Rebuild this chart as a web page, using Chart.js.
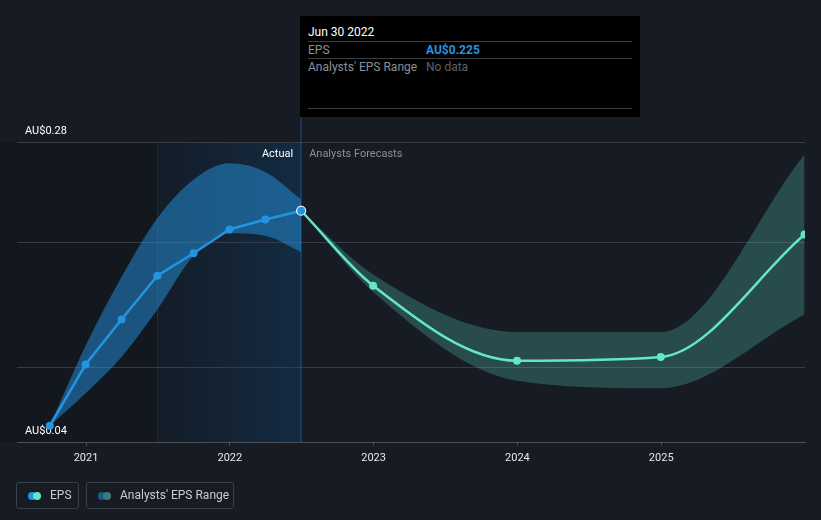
<!DOCTYPE html>
<html>
<head>
<meta charset="utf-8">
<script src="https://cdn.jsdelivr.net/npm/chart.js@4.4.1/dist/chart.umd.min.js"></script>
<style>
html,body{margin:0;padding:0;background:#161b24;}
#wrap{position:relative;width:821px;height:520px;font-family:Roboto,"Noto Sans",sans-serif;overflow:hidden;}
#c{position:absolute;left:0;top:0;}
#tip{position:absolute;left:300px;top:16px;width:340px;height:101px;background:#000;}
#tip .hd{position:absolute;left:8px;font-size:12px;color:#fff;line-height:16px;}
#tip .ln{position:absolute;left:8px;right:8px;height:1px;background:#3a3d42;}
#tip .lab{position:absolute;left:8px;font-size:12px;color:#8c9097;line-height:14px;}
#tip .val{position:absolute;left:126px;font-size:12px;line-height:14px;}
.leg{position:absolute;top:482px;height:27px;border:1px solid #3a3f48;border-radius:3px;box-sizing:border-box;}
.leg span.t{position:absolute;top:5px;font-size:12px;color:#c9ccd1;line-height:15px;white-space:nowrap;}
.dot{position:absolute;top:9px;width:8px;height:8px;border-radius:50%;}
</style>
</head>
<body>
<div id="wrap">
<canvas id="c" width="821" height="520"></canvas>
<div id="tip">
  <div class="hd" style="top:8px">Jun 30 2022</div>
  <div class="ln" style="top:25px"></div>
  <div class="lab" style="top:27px">EPS</div>
  <div class="val" style="top:27px;color:#2394df;font-weight:bold">AU$0.225</div>
  <div class="ln" style="top:42px"></div>
  <div class="lab" style="top:44px">Analysts' EPS Range</div>
  <div class="val" style="top:44px;color:#5d6168">No data</div>
  <div class="ln" style="top:92px"></div>
</div>
<div class="leg" style="left:16px;width:63px;">
  <div class="dot" style="left:11px;background:#2394df"></div>
  <div class="dot" style="left:16px;background:#63e6cd"></div>
  <span class="t" style="left:33px">EPS</span>
</div>
<div class="leg" style="left:86px;width:148px;">
  <div class="dot" style="left:11px;background:#1d5a85"></div>
  <div class="dot" style="left:16px;background:#3b7c78"></div>
  <span class="t" style="left:33px">Analysts' EPS Range</span>
</div>
</div>
<script>
// ---- data ----
const pastDates = [2020.748, 2020.997, 2021.247, 2021.496, 2021.748, 2021.997, 2022.247, 2022.496];
const pastEPS   = [0.053, 0.102, 0.138, 0.173, 0.191, 0.210, 0.218, 0.225];
const pastLow   = [0.053, 0.079, 0.108, 0.146, 0.189, 0.207, 0.205, 0.192];
const pastHigh  = [0.053, 0.117, 0.172, 0.219, 0.250, 0.263, 0.256, 0.234];

const fcDates = [2022.496, 2022.997, 2023.997, 2024.997, 2025.997];
const fcEPS   = [0.225, 0.165, 0.105, 0.108, 0.206];
const fcLow   = [0.225, 0.160, 0.089, 0.083, 0.142];
const fcHigh  = [0.225, 0.174, 0.128, 0.128, 0.270];

const yearTicks = [2021, 2022, 2023, 2024, 2025];
const yTicks = [0.04, 0.10, 0.20, 0.28];
const yLabelled = [0.04, 0.28];
const nowDate = 2022.496;
const pastStart = 2021.496;

const pts = (xs, ys) => xs.map((x, i) => ({x: x, y: ys[i]}));

const BLUE = '#2394df';
const TEAL = '#63e6cd';

const bgPlugin = {
  id: 'bg',
  beforeDraw(chart) {
    const {ctx, chartArea: a, scales: {x}} = chart;
    const xs = x.getPixelForValue(pastStart);
    const xn = x.getPixelForValue(nowDate);
    ctx.save();
    ctx.fillStyle = '#13171e';
    ctx.fillRect(0, a.top, xs, a.bottom - a.top);
    const g = ctx.createLinearGradient(xs, 0, xn, 0);
    g.addColorStop(0, '#141c27');
    g.addColorStop(1, '#132b42');
    ctx.fillStyle = g;
    ctx.fillRect(xs, a.top, xn - xs, a.bottom - a.top);
    ctx.fillStyle = 'rgba(35,148,223,0.18)';
    ctx.fillRect(Math.round(xs), a.top, 1, a.bottom - a.top);
    ctx.restore();
  },
  beforeDatasetsDraw(chart) {
    const {ctx, chartArea: a, scales: {x}} = chart;
    const xn = x.getPixelForValue(nowDate);
    ctx.save();
    ctx.fillStyle = 'rgba(35,148,223,0.45)';
    ctx.fillRect(Math.round(xn) - 0.5, 117, 1, a.bottom - 117);
    ctx.font = '11px Roboto';
    ctx.textBaseline = 'middle';
    ctx.textAlign = 'right';
    ctx.fillStyle = '#ffffff';
    ctx.fillText('Actual', xn - 8, a.top + 12);
    ctx.textAlign = 'left';
    ctx.fillStyle = '#8a8f98';
    ctx.fillText('Analysts Forecasts', xn + 8, a.top + 12);
    ctx.restore();
  }
};

new Chart(document.getElementById('c'), {
  type: 'line',
  data: {
    datasets: [
      {label: 'pastHigh', data: pts(pastDates, pastHigh), fill: '+1', backgroundColor: 'rgba(35,148,223,0.5)',
       borderWidth: 0, pointRadius: 0, cubicInterpolationMode: 'monotone', order: 3},
      {label: 'pastLow', data: pts(pastDates, pastLow), fill: false,
       borderWidth: 0, pointRadius: 0, cubicInterpolationMode: 'monotone', order: 3},
      {label: 'fcHigh', data: pts(fcDates, fcHigh), fill: '+1', backgroundColor: 'rgba(99,230,205,0.24)',
       borderWidth: 0, pointRadius: 0, cubicInterpolationMode: 'monotone', order: 3},
      {label: 'fcLow', data: pts(fcDates, fcLow), fill: false,
       borderWidth: 0, pointRadius: 0, cubicInterpolationMode: 'monotone', order: 3},
      {label: 'fcEPS', data: pts(fcDates, fcEPS), borderColor: TEAL, backgroundColor: TEAL, borderWidth: 2.5,
       pointRadius: fcDates.map((d, i) => i === 0 ? 0 : 4), pointBorderWidth: 0,
       cubicInterpolationMode: 'monotone', fill: false, order: 2},
      {label: 'EPS', data: pts(pastDates, pastEPS), borderColor: BLUE, backgroundColor: BLUE, borderWidth: 2.5,
       tension: 0, fill: false,
       pointRadius: pastDates.map((d, i) => i === pastDates.length - 1 ? 4.5 : 4),
       pointBorderColor: pastDates.map((d, i) => i === pastDates.length - 1 ? '#ffffff' : BLUE),
       pointBorderWidth: pastDates.map((d, i) => i === pastDates.length - 1 ? 1.2 : 0),
       order: 1}
    ]
  },
  options: {
    responsive: false,
    devicePixelRatio: 1,
    animation: false,
    layout: {padding: {left: 17, right: 16, top: 142, bottom: 48}},
    plugins: {legend: {display: false}, tooltip: {enabled: false}},
    scales: {
      x: {
        type: 'linear', min: 2020.52, max: 2026.0,
        afterBuildTicks: s => { s.ticks = yearTicks.map(v => ({value: v})); },
        afterFit: s => { s.height = 30; },
        ticks: {color: '#e8e8e8', font: {family: 'Roboto', size: 11}, padding: 6,
                callback: v => String(v), maxRotation: 0},
        grid: {display: true, drawOnChartArea: false, drawTicks: true, tickLength: 4, color: '#4a4f58'},
        border: {display: true, color: '#4a4f58', width: 1}
      },
      y: {
        type: 'linear', min: 0.04, max: 0.28,
        afterBuildTicks: s => { s.ticks = yTicks.map(v => ({value: v})); },
        afterFit: s => { s.width = 0; },
        ticks: {mirror: true, padding: 8, labelOffset: -11, color: '#ffffff',
                font: {family: 'Roboto', size: 11},
                callback: v => yLabelled.includes(v) ? 'AU$' + v.toFixed(2) : ''},
        grid: {color: '#363b45', drawTicks: false, lineWidth: 1},
        border: {display: false}
      }
    }
  },
  plugins: [bgPlugin]
});
</script>
</body>
</html>
